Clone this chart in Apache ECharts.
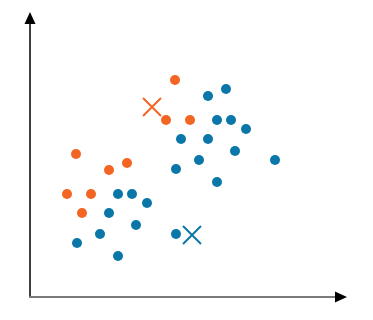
<!DOCTYPE html>
<html>
<head>
<meta charset="utf-8">
<script src="https://cdn.jsdelivr.net/npm/echarts@6/dist/echarts.min.js"></script>
<style>html,body{margin:0;padding:0;background:#fff}#c{width:373px;height:320px}</style>
</head>
<body>
<div id="c"></div>
<script>
// Orange cluster points [x, y]
const orangePoints = [
  [145, 217], [136, 177], [160, 177], [46, 143], [97, 134],
  [79, 127], [37, 103], [61, 103], [52, 84]
];
// Blue cluster points [x, y]
const bluePoints = [
  [178, 201], [196, 208], [187, 177], [201, 177], [216, 168],
  [151, 158], [178, 158], [205, 146], [169, 137], [245, 137],
  [146, 128], [187, 115], [88, 103], [102, 103], [117, 94],
  [79, 84], [106, 72], [70, 63], [146, 63], [47, 54], [88, 41]
];
// Centroids
const orangeCentroid = [[122, 190]];
const blueCentroid = [[162, 62]];

const ORANGE = '#F26522';
const BLUE = '#0A77A8';
const cross = 'path://M0,0L10,10M10,0L0,10';

const hidden = {splitLine: {show: false}, axisTick: {show: false}, axisLabel: {show: false}};

const chart = echarts.init(document.getElementById('c'), null, {renderer: 'canvas'});
chart.setOption({
  animation: false,
  grid: {left: 30, right: 32, top: 18, bottom: 23},
  xAxis: [
    Object.assign({
      type: 'value', min: 0, max: 311,
      axisLine: {show: true, lineStyle: {color: '#7a7a7a', width: 2}}
    }, hidden),
    Object.assign({
      type: 'value', min: 0, max: 311, position: 'bottom',
      axisLine: {show: true, onZero: false, lineStyle: {color: '#000', width: 0},
        symbol: ['none', 'triangle'], symbolSize: [11, 12]}
    }, hidden)
  ],
  yAxis: Object.assign({
    type: 'value', min: 0, max: 279,
    axisLine: {show: true, lineStyle: {color: '#000', width: 1.5},
      symbol: ['none', 'triangle'], symbolSize: [11, 12]}
  }, hidden),
  series: [
    {type: 'scatter', data: orangePoints, symbolSize: 10, itemStyle: {color: ORANGE, opacity: 1}},
    {type: 'scatter', data: bluePoints, symbolSize: 10, itemStyle: {color: BLUE, opacity: 1}},
    {type: 'scatter', data: orangeCentroid, symbol: cross, symbolSize: 18,
      itemStyle: {color: 'none', borderColor: ORANGE, borderWidth: 2, opacity: 1}},
    {type: 'scatter', data: blueCentroid, symbol: cross, symbolSize: 18,
      itemStyle: {color: 'none', borderColor: BLUE, borderWidth: 2, opacity: 1}}
  ]
});
</script>
</body>
</html>
